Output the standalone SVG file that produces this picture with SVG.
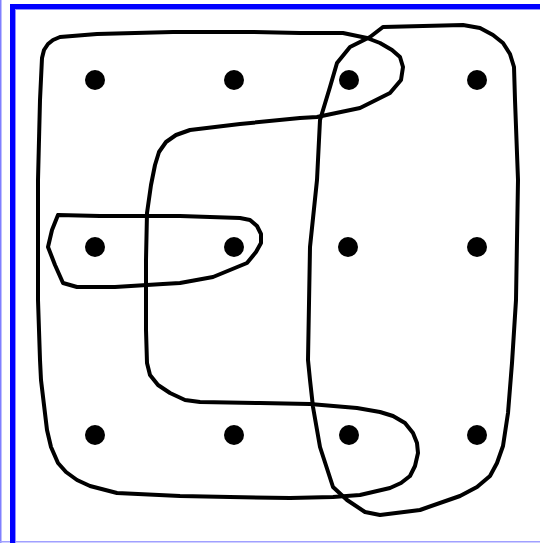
<svg xmlns="http://www.w3.org/2000/svg" width="540" height="543" viewBox="0 0 540 543">
<style>
.dot{fill:#000}
.edge{fill:none;stroke:#000;stroke-width:4;stroke-linejoin:round;stroke-linecap:round}
</style>
<rect x="0" y="0" width="540" height="543" fill="#fff"/>
<g id="frame">
<rect x="0" y="0" width="1.5" height="543" fill="#8080ff"/>
<rect x="0" y="541" width="540" height="1.5" fill="#a0a0ff"/>
<rect x="10" y="4" width="5" height="539" fill="#0000ff"/>
<rect x="10" y="4" width="530" height="5" fill="#0000ff"/>
<rect x="15" y="9" width="525" height="1" fill="#9090ff"/>
<rect x="15" y="9" width="1" height="534" fill="#9090ff"/>
</g>
<g id="connectors">
<polyline id="edge-B" class="edge" points="60,37 97,34 173,32 250,32 300,33 343,33 367,38 380,43 392,50 400,57 403,67 401,80 390,93 370,103 360,108 317,117 300,118 240,124 190,130 176,135 166,142 159,152 155,165 151,185 147,213 146,260 146,330 147,363 150,375 158,385 170,393 185,400 200,402 260,403 310,404 357,408 380,412 393,416 405,423 413,433 417,443 418,453 415,466 410,476 401,483 390,488 360,495 333,497 290,498 230,497 180,496 117,493 90,486 77,480 66,472 58,463 51,447 47,430 41,380 40,360 38,300 38,240 38,180 40,100 42,58 44,50 48,44 53,40 60,37"/>
<polyline id="edge-C" class="edge" points="58,215 100,216 180,216 240,218 250,220 257,226 261,234 261,243 256,252 247,263 213,277 180,283 163,284 115,287 77,287 63,283 55,265 48,247 52,230 58,215"/>
<polyline id="edge-R" class="edge" points="383,27 463,25 480,28 493,35 503,43 510,54 514,67 515,100 518,180 516,300 512,363 508,413 503,446 497,463 490,476 477,487 460,496 420,510 380,515 365,512 347,500 333,487 320,447 313,407 310,380 308,360 310,247 317,180 320,120 330,87 337,63 350,47 370,37 383,27"/>
</g>
<g id="n1"><circle class="dot" cx="95" cy="80" r="10"/></g>
<g id="n2"><circle class="dot" cx="234" cy="80" r="10"/></g>
<g id="n3"><circle class="dot" cx="349" cy="80" r="10"/></g>
<g id="n4"><circle class="dot" cx="477" cy="80" r="10"/></g>
<g id="n5"><circle class="dot" cx="95" cy="247" r="10"/></g>
<g id="n6"><circle class="dot" cx="234" cy="247" r="10"/></g>
<g id="n7"><circle class="dot" cx="348" cy="247" r="10"/></g>
<g id="n8"><circle class="dot" cx="477" cy="247" r="10"/></g>
<g id="n9"><circle class="dot" cx="95" cy="435" r="10"/></g>
<g id="n10"><circle class="dot" cx="234" cy="435" r="10"/></g>
<g id="n11"><circle class="dot" cx="349" cy="435" r="10"/></g>
<g id="n12"><circle class="dot" cx="477" cy="435" r="10"/></g>
</svg>
